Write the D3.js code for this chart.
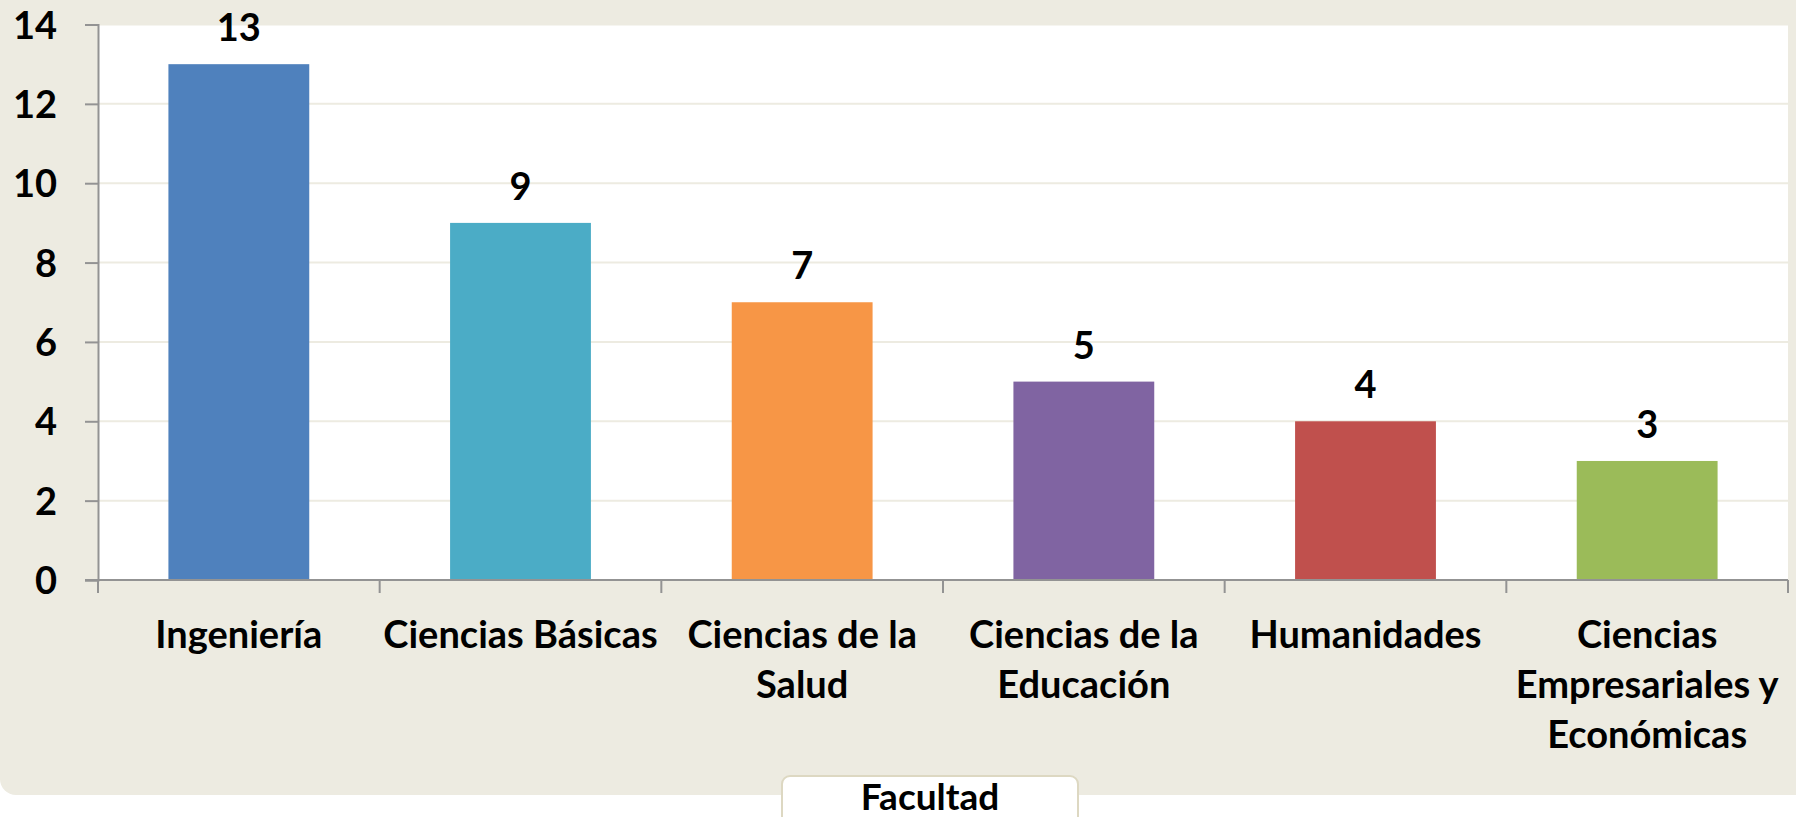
<!DOCTYPE html>
<html>
<head>
<meta charset="utf-8">
<script src="https://cdn.jsdelivr.net/npm/d3@7"></script>
<style>
  html, body { margin: 0; padding: 0; background: #fff; }
  svg { display: block; font-family: Lato, "Open Sans", sans-serif; font-weight: 700; }
</style>
</head>
<body>
<svg id="chart"></svg>
<script>
const width = 1796, height = 817;

// data
const categories = ["Ingeniería", "Ciencias Básicas", "Ciencias de la Salud",
  "Ciencias de la Educación", "Humanidades", "Ciencias Empresariales y Económicas"];
const labelLines = [
  ["Ingeniería"],
  ["Ciencias Básicas"],
  ["Ciencias de la", "Salud"],
  ["Ciencias de la", "Educación"],
  ["Humanidades"],
  ["Ciencias", "Empresariales y", "Económicas"]
];
const values = [13, 9, 7, 5, 4, 3];
const colors = ["#4F81BD", "#4BACC6", "#F79646", "#8064A2", "#C0504D", "#9BBB59"];
const yTicks = [0, 2, 4, 6, 8, 10, 12, 14];
const axisTitle = "Facultad";

const svg = d3.select("#chart").attr("width", width).attr("height", height);

const plot = { left: 98, right: 1788, top: 24.5, bottom: 580 };

// beige chart background
svg.append("rect")
  .attr("x", 0).attr("y", -40)
  .attr("width", width + 40).attr("height", 795 + 40)
  .attr("rx", 16)
  .attr("fill", "#EDEBE1");

// plot area
svg.append("rect")
  .attr("x", plot.left).attr("y", plot.top)
  .attr("width", plot.right - plot.left).attr("height", plot.bottom - plot.top)
  .attr("fill", "#fff");

const x = d3.scaleBand()
  .domain(categories)
  .range([plot.left, plot.right])
  .paddingInner(0.5)
  .paddingOuter(0.25);

const y = d3.scaleLinear().domain([0, 14]).range([plot.bottom, plot.top]);

// gridlines
svg.append("g")
  .selectAll("line")
  .data(yTicks.filter(d => d > 0))
  .join("line")
  .attr("x1", plot.left).attr("x2", plot.right)
  .attr("y1", d => y(d)).attr("y2", d => y(d))
  .attr("stroke", "#EDEBE1")
  .attr("stroke-width", 2);

// bars
svg.append("g")
  .selectAll("rect")
  .data(values)
  .join("rect")
  .attr("x", (d, i) => x(categories[i]))
  .attr("y", d => y(d))
  .attr("width", x.bandwidth())
  .attr("height", d => y(0) - y(d))
  .attr("fill", (d, i) => colors[i]);

// value labels
svg.append("g")
  .selectAll("text")
  .data(values)
  .join("text")
  .attr("x", (d, i) => x(categories[i]) + x.bandwidth() / 2)
  .attr("y", d => y(d) - 23)
  .attr("text-anchor", "middle")
  .attr("font-size", 38)
  .attr("fill", "#000")
  .text(d => d);

// y axis
const yAxis = svg.append("g")
  .attr("transform", `translate(${plot.left},0)`)
  .call(d3.axisLeft(y).tickValues(yTicks).tickSize(13).tickPadding(28).tickFormat(d3.format("d")));
yAxis.select(".domain").attr("stroke", "#939393").attr("stroke-width", 2);
yAxis.selectAll(".tick line").attr("stroke", "#939393").attr("stroke-width", 2);
yAxis.selectAll(".tick text")
  .attr("font-size", 38)
  .attr("font-family", "Lato, sans-serif")
  .attr("font-weight", 700)
  .attr("fill", "#000")
  .attr("dy", "0.36em");

// x axis line and tick marks at band boundaries
const boundaries = d3.range(categories.length + 1).map(i => plot.left + i * (plot.right - plot.left) / categories.length);
svg.append("line")
  .attr("x1", plot.left - 13).attr("x2", plot.right)
  .attr("y1", plot.bottom).attr("y2", plot.bottom)
  .attr("stroke", "#939393").attr("stroke-width", 2);
svg.append("g")
  .selectAll("line")
  .data(boundaries)
  .join("line")
  .attr("x1", d => d).attr("x2", d => d)
  .attr("y1", plot.bottom).attr("y2", plot.bottom + 13)
  .attr("stroke", "#939393").attr("stroke-width", 2);

// category labels
const lbl = svg.append("g")
  .selectAll("text")
  .data(categories)
  .join("text")
  .attr("x", d => x(d) + x.bandwidth() / 2)
  .attr("y", 648)
  .attr("text-anchor", "middle")
  .attr("font-size", 38)
  .attr("fill", "#000");
lbl.selectAll("tspan")
  .data((d, i) => labelLines[i])
  .join("tspan")
  .attr("x", function () { return this.parentNode.getAttribute("x"); })
  .attr("dy", (d, i) => i === 0 ? 0 : 50)
  .text(d => d);

// axis title box
svg.append("rect")
  .attr("x", 782).attr("y", 776)
  .attr("width", 296).attr("height", 60)
  .attr("rx", 8)
  .attr("fill", "#fff")
  .attr("stroke", "#DDD8C2")
  .attr("stroke-width", 2);
svg.append("text")
  .attr("x", 930).attr("y", 810)
  .attr("text-anchor", "middle")
  .attr("font-size", 37)
  .attr("fill", "#000")
  .text(axisTitle);
</script>
</body>
</html>
